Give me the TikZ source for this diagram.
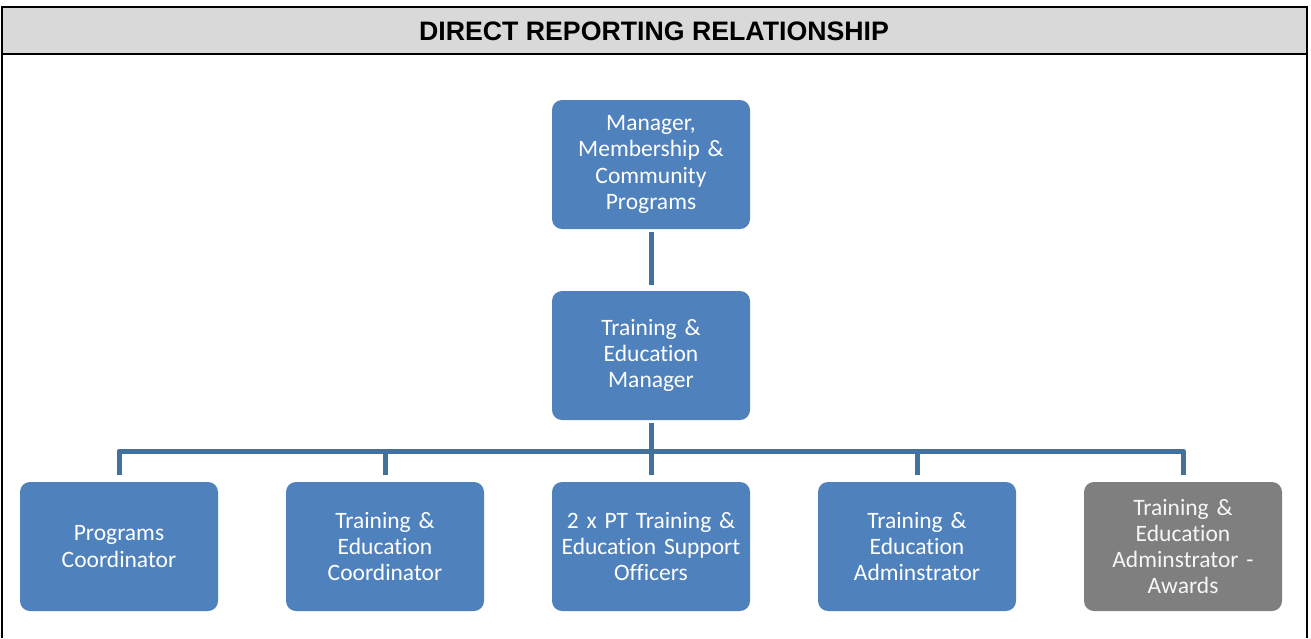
\documentclass[tikz,border=0pt]{standalone}
\usepackage{fontspec}
\newfontfamily\headfont{Liberation Sans}
\newfontfamily\boxfont[Ligatures=NoCommon]{Carlito}
\definecolor{headgray}{HTML}{D9D9D9}
\definecolor{boxblue}{HTML}{4F81BD}
\definecolor{boxgray}{HTML}{7F7F7F}
\definecolor{linkblue}{HTML}{41719C}
\tikzset{
  orgbox/.style={rectangle, rounded corners=10pt, fill=boxblue, text=white,
    minimum width=198pt, minimum height=129pt, inner sep=0pt, align=center,
    text width=190pt,
    font=\boxfont\fontsize{23.5pt}{26.3pt}\selectfont},
  graybox/.style={orgbox, fill=boxgray, text=white!93!gray},
  link/.style={draw=linkblue, line width=5pt, line join=round},
  frameline/.style={line width=2.6pt, draw=black}
}
\begin{document}
\begin{tikzpicture}[x=1pt, y=1pt]
\useasboundingbox (0,0) rectangle (1311,-638);
% title band and frame
\fill[headgray] (2,-7) rectangle (1307,-54);
\draw[frameline] (2,-638) -- (2,-7) -- (1307,-7) -- (1307,-638);
\draw[frameline] (2,-54) -- (1307,-54);
\node[font=\headfont\bfseries\fontsize{26.7pt}{30pt}\selectfont] (title) at (654,-31) {DIRECT REPORTING RELATIONSHIP};
% boxes
\node[orgbox] (mgr) at (651,-164.5) {Manager,\\Membership \&\\Community\\Programs};
\node[orgbox] (tem) at (651,-355.5) {Training \&\\Education\\Manager};
\node[orgbox] (b1) at (119,-546.5) {Programs\\Coordinator};
\node[orgbox] (b2) at (385,-546.5) {Training \&\\Education\\Coordinator};
\node[orgbox] (b3) at (651,-546.5) {2 x PT Training \&\\Education Support\\Officers};
\node[orgbox] (b4) at (917,-546.5) {Training \&\\Education\\Adminstrator};
\node[graybox] (b5) at (1183,-546.5) {Training \&\\Education\\Adminstrator -\\Awards};
% connectors
\coordinate (bus) at (651,-451);
\draw[link, shorten <=3pt, shorten >=6pt] (mgr) -- (tem);
\draw[link, shorten <=3pt] (tem.south) -- (bus);
\foreach \b in {b1,b2,b3,b4,b5}
  \draw[link, shorten >=7pt] (bus) -| (\b.north);
\end{tikzpicture}
\end{document}
